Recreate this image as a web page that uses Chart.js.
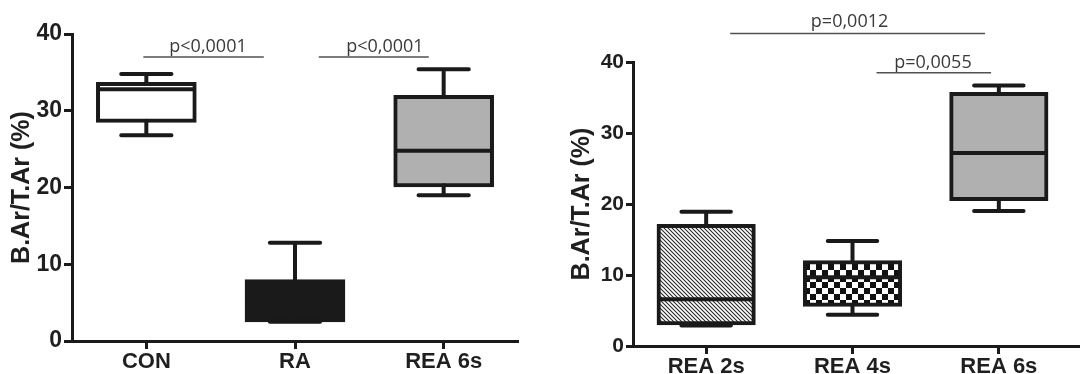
<!DOCTYPE html>
<html><head><meta charset="utf-8">
<script src="https://cdn.jsdelivr.net/npm/chart.js@4/dist/chart.umd.min.js"></script>
<style>
html,body{margin:0;padding:0;background:#fff;}
#wrap{position:relative;width:1080px;height:374px;overflow:hidden;}
#c1{position:absolute;left:0;top:0;}
#c2{position:absolute;left:540px;top:0;}
</style></head><body>
<div id="wrap"><canvas id="c1" width="540" height="374"></canvas><canvas id="c2" width="540" height="374"></canvas></div>
<script>
// ---- data ----
const leftCategories = ['CON', 'RA', 'REA 6s'];
const leftMin    = [26.8, 2.5, 19.0];
const leftQ1     = [28.7, 2.7, 20.3];
const leftMedian = [32.8, 5.0, 24.8];
const leftQ3     = [33.5, 7.8, 31.8];
const leftMax    = [34.8, 12.8, 35.4];

const rightCategories = ['REA 2s', 'REA 4s', 'REA 6s'];
const rightMin    = [2.9, 4.4, 19.0];
const rightQ1     = [3.2, 5.8, 20.7];
const rightMedian = [6.6, 9.7, 27.2];
const rightQ3     = [16.9, 11.8, 35.5];
const rightMax    = [18.9, 14.8, 36.7];

const yTicks = [0, 10, 20, 30, 40];
const yTitle = 'B.Ar/T.Ar (%)';
const leftPLabels  = ['p<0,0001', 'p<0,0001'];
const rightPLabels = ['p=0,0012', 'p=0,0055'];

// ---- styles ----
const INK = '#1a1a1a';
function hatchPattern() {
  const s = 4, c = document.createElement('canvas');
  c.width = s; c.height = s;
  const g = c.getContext('2d');
  g.fillStyle = '#fff'; g.fillRect(0, 0, s, s);
  g.strokeStyle = '#2a2a2a'; g.lineWidth = 1.1;
  g.beginPath();
  g.moveTo(0, 0); g.lineTo(s, s);
  g.moveTo(-1, s - 1); g.lineTo(1, s + 1);
  g.moveTo(s - 1, -1); g.lineTo(s + 1, 1);
  g.stroke();
  return g.createPattern(c, 'repeat');
}
function checkerPattern() {
  const s = 6, c = document.createElement('canvas');
  c.width = 2 * s; c.height = 2 * s;
  const g = c.getContext('2d');
  g.fillStyle = '#fff'; g.fillRect(0, 0, 2 * s, 2 * s);
  g.fillStyle = '#111';
  g.fillRect(0, 0, s, s); g.fillRect(s, s, s, s);
  return g.createPattern(c, 'repeat');
}

const boxPlugin = {
  id: 'boxWhiskers',
  afterDatasetsDraw(chart, args, opts) {
    const { ctx } = chart;
    const y = chart.scales.y;
    const meta = chart.getDatasetMeta(0);
    ctx.save();
    ctx.strokeStyle = INK;
    ctx.lineWidth = 4;
    meta.data.forEach((bar, i) => {
      const x = bar.x, w = bar.width, cw = w * 0.26;
      const pMin = y.getPixelForValue(opts.min[i]);
      const pMax = y.getPixelForValue(opts.max[i]);
      const pQ1 = y.getPixelForValue(opts.q1[i]);
      const pQ3 = y.getPixelForValue(opts.q3[i]);
      const pMed = y.getPixelForValue(opts.median[i]);
      ctx.lineCap = 'round';
      ctx.beginPath();
      ctx.moveTo(x, pQ3); ctx.lineTo(x, pMax);
      ctx.moveTo(x - cw, pMax); ctx.lineTo(x + cw, pMax);
      ctx.moveTo(x, pQ1); ctx.lineTo(x, pMin);
      ctx.moveTo(x - cw, pMin); ctx.lineTo(x + cw, pMin);
      ctx.stroke();
      ctx.lineCap = 'butt';
      ctx.beginPath();
      ctx.moveTo(x - w / 2, pMed); ctx.lineTo(x + w / 2, pMed);
      ctx.stroke();
    });
    ctx.restore();
  }
};

const pPlugin = {
  id: 'pAnnot',
  afterDraw(chart, args, opts) {
    const { ctx } = chart;
    const x = chart.scales.x, y = chart.scales.y;
    ctx.save();
    if (opts.extendAxis) {
      const yb = chart.chartArea.bottom + 0.5;
      ctx.strokeStyle = INK; ctx.lineWidth = 3;
      ctx.beginPath(); ctx.moveTo(chart.chartArea.right - 2, yb); ctx.lineTo(chart.width, yb); ctx.stroke();
    }
    (opts.items || []).forEach(it => {
      const x0 = x.getPixelForValue(it.from), x1 = x.getPixelForValue(it.to);
      const py = y.getPixelForValue(it.y);
      ctx.strokeStyle = '#505050'; ctx.lineWidth = 1.5;
      ctx.beginPath(); ctx.moveTo(x0, py); ctx.lineTo(x1, py); ctx.stroke();
      ctx.fillStyle = '#3a3a3a';
      ctx.font = '18px "Open Sans"';
      ctx.textAlign = 'center'; ctx.textBaseline = 'alphabetic';
      ctx.fillText(it.text, x.getPixelForValue(it.textX), py - it.gap);
    });
    ctx.restore();
  }
};

function makeChart(canvas, cats, mn, q1, med, q3, mx, fills, cfg) {
  return new Chart(canvas, {
    type: 'bar',
    data: {
      labels: cats,
      datasets: [{
        data: cats.map((c, i) => [q1[i], q3[i]]),
        backgroundColor: fills,
        borderColor: INK,
        borderWidth: 4,
        borderSkipped: false,
        inflateAmount: 2,
        barPercentage: 0.65,
        categoryPercentage: 1.0
      }]
    },
    options: {
      responsive: false,
      animation: false,
      events: [],
      layout: { padding: cfg.padding },
      plugins: {
        legend: { display: false },
        tooltip: { enabled: false },
        boxWhiskers: { min: mn, q1: q1, median: med, q3: q3, max: mx },
        pAnnot: { items: cfg.annotations, extendAxis: cfg.extendAxis }
      },
      scales: {
        x: {
          type: 'category',
          offset: true,
          grid: { display: true, drawOnChartArea: false, drawTicks: true, tickLength: 8, tickWidth: 3, tickColor: INK, offset: false },
          border: { display: true, color: INK, width: 3 },
          ticks: { color: '#1f1f1f', font: { family: 'Liberation Sans', weight: 'bold', size: 22 }, padding: 0, maxRotation: 0, autoSkip: false },
          afterFit(s) { s.height = cfg.xHeight; }
        },
        y: {
          min: 0, max: 40,
          afterBuildTicks(s) { s.ticks = yTicks.map(v => ({ value: v })); },
          grid: { display: true, drawOnChartArea: false, drawTicks: true, tickLength: cfg.tickLen, tickWidth: 3, tickColor: INK },
          border: { display: true, color: INK, width: 3 },
          ticks: { color: '#1f1f1f', font: { family: 'Liberation Sans', weight: 'bold', size: cfg.yTickSize }, padding: 2 },
          title: { display: true, text: yTitle, color: '#1f1f1f', font: { family: 'Liberation Sans', weight: 'bold', size: 25 }, padding: { top: cfg.titlePad, bottom: 0 } },
          afterFit(s) { s.width = cfg.yWidth; }
        }
      }
    },
    plugins: [boxPlugin, pPlugin]
  });
}

Chart.defaults.font.family = 'Liberation Sans';

makeChart(document.getElementById('c1'), leftCategories, leftMin, leftQ1, leftMedian, leftQ3, leftMax,
  ['#ffffff', '#1a1a1a', '#b0b0b0'],
  {
    padding: { top: 34, right: 22, left: 0, bottom: 0 },
    xHeight: 33, yWidth: 72, tickLen: 8, yTickSize: 23, titlePad: 7, extendAxis: false,
    annotations: [
      { from: -0.02, to: 0.79, y: 37.0, text: leftPLabels[0], textX: 0.415, gap: 5 },
      { from: 1.16, to: 1.90, y: 37.0, text: leftPLabels[1], textX: 1.605, gap: 5 }
    ]
  });

makeChart(document.getElementById('c2'), rightCategories, rightMin, rightQ1, rightMedian, rightQ3, rightMax,
  [hatchPattern(), checkerPattern(), '#b0b0b0'],
  {
    padding: { top: 62, right: 8, left: 0, bottom: 0 },
    xHeight: 28, yWidth: 93, tickLen: 7, yTickSize: 21, titlePad: 27, extendAxis: true,
    annotations: [
      { from: 0.164, to: 1.906, y: 44.0, text: rightPLabels[0], textX: 0.98, gap: 7 },
      { from: 1.164, to: 1.947, y: 38.5, text: rightPLabels[1], textX: 1.55, gap: 5 }
    ]
  });
</script>
</body></html>
